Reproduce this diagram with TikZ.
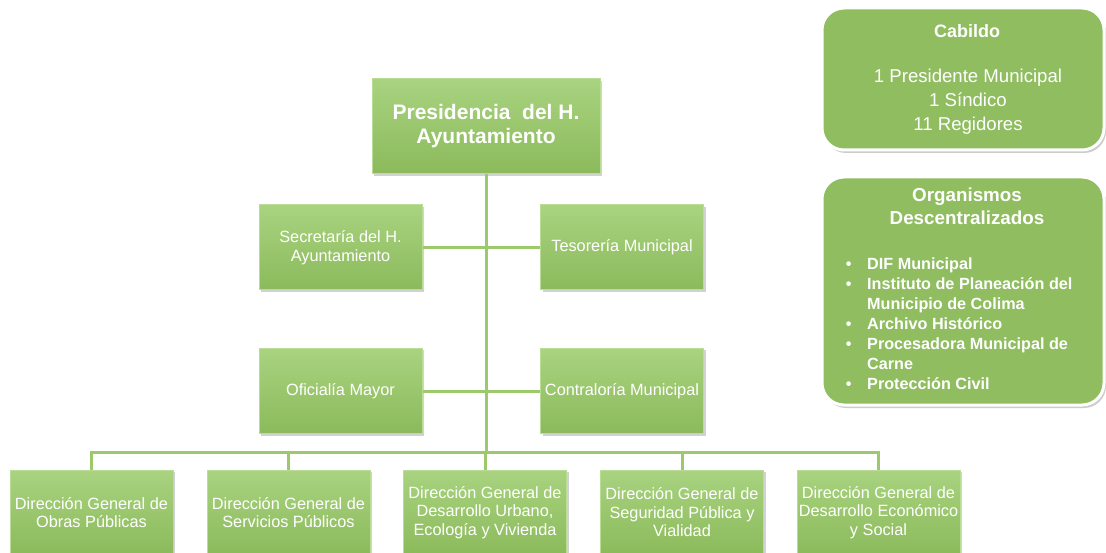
\documentclass[tikz,border=0pt]{standalone}
\usepackage{fontspec}
\setmainfont{Liberation Sans}
\usetikzlibrary{shadows}
\definecolor{gtop}{HTML}{A9D380}
\definecolor{gbot}{HTML}{8BBA5B}
\definecolor{gline}{HTML}{9CC96C}
\definecolor{gedge}{HTML}{B9DC96}
\definecolor{gfill}{HTML}{8FBD60}
\tikzset{
  orgbox/.style={rectangle, top color=gtop, bottom color=gbot, draw=gedge, line width=1pt,
    minimum width=163pt, minimum height=85pt, inner sep=1pt, align=center, text=white,
    font=\fontsize{16.3}{18.5}\selectfont,
    drop shadow={opacity=0.35, shadow xshift=2pt, shadow yshift=-2pt}},
  infobox/.style={rectangle, rounded corners=22pt, fill=gfill, draw=white, line width=3pt,
    drop shadow={opacity=0.4, shadow xshift=2pt, shadow yshift=-3pt}},
  conn/.style={draw=gline, line width=3pt},
  wtext/.style={text=white, inner sep=0pt, align=center}
}
\begin{document}
\begin{tikzpicture}[x=1pt,y=-1pt]
\clip (0,0) rectangle (1106,553);
\fill[white] (0,0) rectangle (1106,553);

\coordinate (bar) at (486,452);

% boxes
\node[orgbox, minimum width=228pt, minimum height=95pt, font=\bfseries\fontsize{21}{24}\selectfont] (pres) at (486,126.5) {Presidencia\ \ del H.\\Ayuntamiento};
\node[orgbox] (sec) at (340.5,247.5) {Secretaría del H.\\Ayuntamiento};
\node[orgbox] (tes) at (622,247.5) {Tesorería Municipal};
\node[orgbox] (ofi) at (340.5,391) {Oficialía Mayor};
\node[orgbox] (con) at (622,391) {Contraloría Municipal};

\node[orgbox] (d1) at (91.5,512.5) {Dirección General de\\Obras Públicas};
\node[orgbox] (d2) at (288.5,512.5) {Dirección General de\\Servicios Públicos};
\node[orgbox] (d3) at (485,512.5) {Dirección General de\\Desarrollo Urbano,\\Ecología y Vivienda};
\node[orgbox] (d4) at (682,512.5) {Dirección General de\\Seguridad Pública y\\Vialidad};
\node[orgbox] (d5) at (878.5,512.5) {Dirección General de\\Desarrollo Económico\\y Social};

% connectors
\draw[conn] (pres.south) -- (bar);
\draw[conn] (sec.east) -- (tes.west);
\draw[conn] (ofi.east) -- (con.west);
\draw[conn] (d1.north) |- (bar) -| (d5.north);
\draw[conn] (d2.north) -- (d2.north |- bar);
\draw[conn] (d3.north) -- (d3.north |- bar);
\draw[conn] (d4.north) -- (d4.north |- bar);

% info boxes
\node[infobox, minimum width=282pt, minimum height=142pt] (cab) at (963,79) {};
\node[wtext, font=\bfseries\fontsize{18}{20}\selectfont] (cabt) at (967,31) {Cabildo};
\node[wtext, font=\fontsize{18.6}{24}\selectfont] (cabb) at (968,102) {1 Presidente Municipal\\1 Síndico\\11 Regidores};

\node[infobox, minimum width=282pt, minimum height=228pt] (orgs) at (963,291) {};
\node[wtext, font=\bfseries\fontsize{18.8}{23}\selectfont] (orgt) at (967,206.5) {Organismos\\Descentralizados};
\node[wtext, align=left, anchor=west, font=\bfseries\fontsize{16.2}{20}\selectfont] (orgl) at (843,324)
{\makebox[24pt][l]{\,•}DIF Municipal\\
 \makebox[24pt][l]{\,•}Instituto de Planeación del\\
 \hspace*{24pt}Municipio de Colima\\
 \makebox[24pt][l]{\,•}Archivo Histórico\\
 \makebox[24pt][l]{\,•}Procesadora Municipal de\\
 \hspace*{24pt}Carne\\
 \makebox[24pt][l]{\,•}Protección Civil};
\end{tikzpicture}
\end{document}
